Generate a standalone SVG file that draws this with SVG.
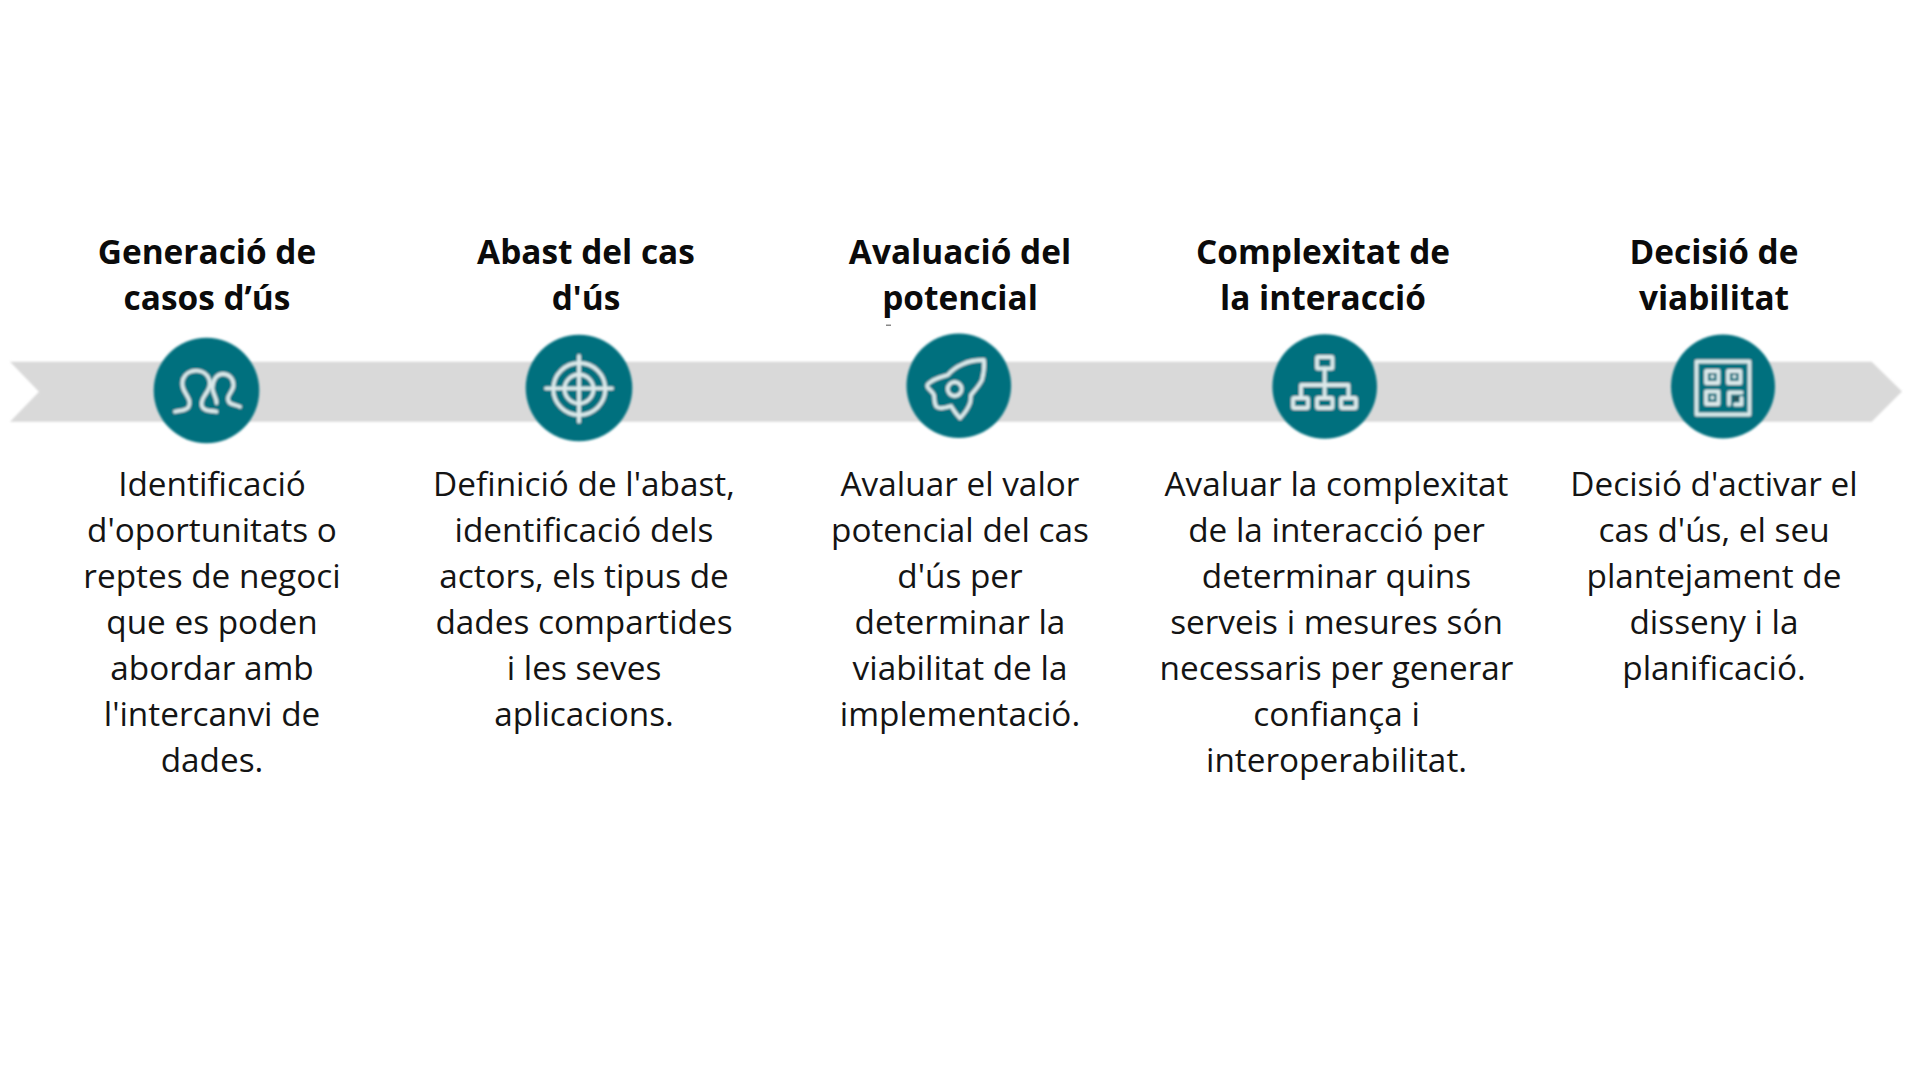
<svg xmlns="http://www.w3.org/2000/svg" width="1920" height="1080" viewBox="0 0 1920 1080">
<defs><filter id="soft" x="-5%" y="-5%" width="110%" height="110%"><feGaussianBlur stdDeviation="0.8"/></filter></defs>
<style>
.h{font-family:"Open Sans","Noto Sans",sans-serif;font-size:33.4px;font-weight:700;fill:#0b0b0b;text-anchor:middle}
.b{font-family:"Open Sans","Noto Sans",sans-serif;font-size:33.35px;fill:#141414;text-anchor:middle}
.c{fill:#02707e}
.i{fill:none;stroke:#dce9ea;stroke-width:3.8;stroke-linejoin:round;stroke-linecap:round}
.d{fill:#dce9ea}
.g{filter:url(#soft)}
</style>
<rect width="1920" height="1080" fill="#fff"/>
<g id="connectors"><polygon class="g" points="10,361.700 1871.700,361.700 1902,391.500 1871.700,421.700 10,421.700 39,391.700" fill="#d9d9d9"/></g>
<g id="n1"><g class="g"><circle class="c" cx="206.500" cy="390.500" r="52.800"/>
<path class="i" d="M175 411.700C181 410 187 410.500 188.500 407C191 402 189 399 186 394C182 388 181.500 384 183 379C185 373.500 190.500 370.700 196.400 370.700C202 370.700 207.500 374 209.500 380C211 386 208 391 205 395C201.500 400 200 404 203 408C206 411.500 212 410.500 216.500 411.700"/>
<path class="i" d="M216.500 403C217 398 212.500 394 212.500 388C212.500 381 216 374 223 374C229.500 374 233.500 379 233.500 385C233.500 391 228 394 228 398.500C228 405 234 404 240 406.700"/></g>
<text class="h" x="207" y="264">Generació de</text><text class="h" x="207" y="310">casos d’ús</text>
<text class="b" x="212" y="496">Identificació</text><text class="b" x="212" y="542">d'oportunitats o</text><text class="b" x="212" y="588">reptes de negoci</text><text class="b" x="212" y="634">que es poden</text><text class="b" x="212" y="680">abordar amb</text><text class="b" x="212" y="726">l'intercanvi de</text><text class="b" x="212" y="772">dades.</text></g>
<g id="n2"><g class="g"><circle class="c" cx="579" cy="388" r="53.300"/>
<circle class="i" cx="579.300" cy="389" r="26"/><circle class="i" cx="579" cy="389" r="14.500"/><path class="i" d="M579 356v65.700M546 388.300h66"/></g>
<text class="h" x="586" y="264">Abast del cas</text><text class="h" x="586" y="310">d'ús</text>
<text class="b" x="584" y="496">Definició de l'abast,</text><text class="b" x="584" y="542">identificació dels</text><text class="b" x="584" y="588">actors, els tipus de</text><text class="b" x="584" y="634">dades compartides</text><text class="b" x="584" y="680">i les seves</text><text class="b" x="584" y="726">aplicacions.</text></g>
<g id="n3"><g class="g"><circle class="c" cx="958.800" cy="385.700" r="52.300"/>
<path class="i" d="M984 360C976 360 969 361 963 364C956 367 951 371 947.800 375C942 377 936 378 931 381.700C928 383.500 926.500 385 927.500 387C930 391 933 392 934 395C934.500 399 934 403 936.400 406.700C939 409 943 408.500 951 406C954 411 957 415 960 418.300C964 414 968 409 970 403C971 400 970.500 398 971 395C975 390 979 386 982 380C984 373 984.500 366 984 360Z"/><circle class="i" cx="954.700" cy="389" r="7"/></g>
<rect x="886" y="324.500" width="5" height="1.500" fill="#888"/>
<text class="h" x="960" y="264">Avaluació del</text><text class="h" x="960" y="310">potencial</text>
<text class="b" x="960" y="496">Avaluar el valor</text><text class="b" x="960" y="542">potencial del cas</text><text class="b" x="960" y="588">d'ús per</text><text class="b" x="960" y="634">determinar la</text><text class="b" x="960" y="680">viabilitat de la</text><text class="b" x="960" y="726">implementació.</text></g>
<g id="n4"><g class="g"><circle class="c" cx="1324.700" cy="386.500" r="52.300"/>
<rect class="i" x="1317" y="357" width="15.500" height="11.500" rx="1"/><rect class="i" x="1293" y="398" width="15" height="10" rx="1"/><rect class="i" x="1317" y="398" width="15.500" height="10" rx="1"/><rect class="i" x="1341" y="398" width="15" height="10" rx="1"/><path class="i" d="M1324.700 368.500v29.500M1301 398v-13h47.500v13"/></g>
<text class="h" x="1323" y="264">Complexitat de</text><text class="h" x="1323" y="310">la interacció</text>
<text class="b" x="1336.500" y="496">Avaluar la complexitat</text><text class="b" x="1336.500" y="542">de la interacció per</text><text class="b" x="1336.500" y="588">determinar quins</text><text class="b" x="1336.500" y="634">serveis i mesures són</text><text class="b" x="1336.500" y="680">necessaris per generar</text><text class="b" x="1336.500" y="726">confiança i</text><text class="b" x="1336.500" y="772">interoperabilitat.</text></g>
<g id="n5"><g class="g"><circle class="c" cx="1723" cy="386.500" r="52"/>
<rect class="i" x="1696.500" y="361.500" width="53" height="53" stroke-width="4.200"/><rect class="i" x="1706" y="371" width="12.500" height="12"/><rect class="i" x="1728" y="371" width="12.500" height="12"/><rect class="i" x="1706" y="391.500" width="12.500" height="12.500"/><path class="i" d="M1729 404.500V392.500H1741.500M1741.500 398V404.500H1735"/>
<rect class="d" x="1710.500" y="375" width="3.500" height="3.500"/><rect class="d" x="1732.500" y="375" width="3.500" height="3.500"/><rect class="d" x="1710.500" y="396" width="3.500" height="3.500"/><rect x="1733.500" y="396" width="5" height="5" fill="#2f4f55"/></g>
<text class="h" x="1714" y="264">Decisió de</text><text class="h" x="1714" y="310">viabilitat</text>
<text class="b" x="1714" y="496">Decisió d'activar el</text><text class="b" x="1714" y="542">cas d'ús, el seu</text><text class="b" x="1714" y="588">plantejament de</text><text class="b" x="1714" y="634">disseny i la</text><text class="b" x="1714" y="680">planificació.</text></g>
</svg>
